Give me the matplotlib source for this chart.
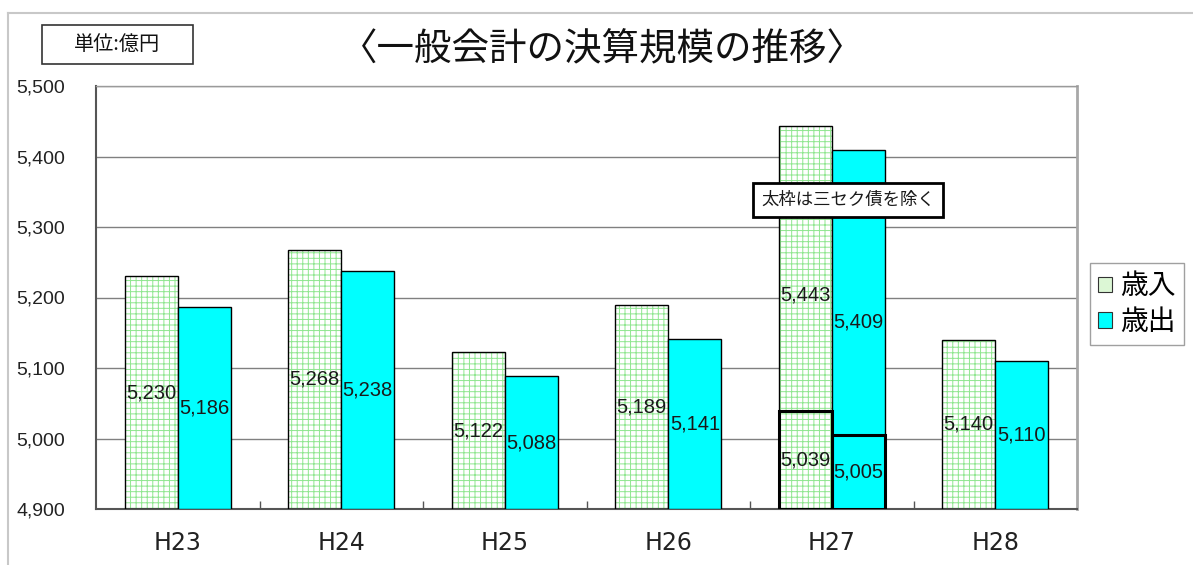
"""General account settlement scale trend chart (H23-H28)."""

import matplotlib
matplotlib.use('Agg')
import matplotlib.pyplot as plt
import numpy as np
from matplotlib.patches import Patch, Rectangle
from matplotlib.lines import Line2D

plt.rcParams['font.family'] = ['Liberation Sans', 'Noto Sans CJK JP', 'DejaVu Sans']
plt.rcParams['hatch.linewidth'] = 0.7

categories = ['H23', 'H24', 'H25', 'H26', 'H27', 'H28']
revenue = [5230, 5268, 5122, 5189, 5443, 5140]        # 歳入
expenditure = [5186, 5238, 5088, 5141, 5409, 5110]    # 歳出
# H27 excluding third-sector bonds (thick-frame bars)
h27_index = 4
h27_excl_revenue = 5039
h27_excl_expenditure = 5005

y_ticks = [4900, 5000, 5100, 5200, 5300, 5400, 5500]
base = 4900

GREEN_HATCH = '#8fe68f'
CYAN = '#00ffff'
TEXT = '#1a1a1a'
JP = ['Noto Sans CJK JP', 'DejaVu Sans']

fig = plt.figure(figsize=(11.93, 5.65), dpi=100)
ax = fig.add_axes([96 / 1193, 1 - 509 / 565, 981 / 1193, 423 / 565])

x = np.arange(len(categories))
w = 0.325
rev = np.array(revenue)
exp_ = np.array(expenditure)

# revenue: white with light green grid, black outline
ax.bar(x - w / 2, rev - base, bottom=base, width=w, facecolor='white',
       edgecolor=GREEN_HATCH, hatch='+++', linewidth=0, zorder=2)
ax.bar(x - w / 2, rev - base, bottom=base, width=w, facecolor='none',
       edgecolor='black', linewidth=1.0, zorder=3)
# expenditure: cyan
ax.bar(x + w / 2, exp_ - base, bottom=base, width=w, facecolor=CYAN,
       edgecolor='black', linewidth=1.0, zorder=3)

# thick frames for H27 excluding third-sector bonds
ax.bar(h27_index - w / 2, h27_excl_revenue - base, bottom=base, width=w,
       facecolor='none', edgecolor='black', linewidth=2.2, zorder=4)
ax.bar(h27_index + w / 2, h27_excl_expenditure - base, bottom=base, width=w,
       facecolor='none', edgecolor='black', linewidth=2.2, zorder=4)

# value labels at the middle of each bar
for i in range(len(categories)):
    if i == h27_index:
        ry = base + (rev[i] - base) * 0.56
        ey = base + (exp_[i] - base) * 0.52
    else:
        ry = (base + rev[i]) / 2
        ey = (base + exp_[i]) / 2
    ax.text(x[i] - w / 2, ry, f'{rev[i]:,}', ha='center', va='center',
            fontsize=14.5, color=TEXT, zorder=5)
    ax.text(x[i] + w / 2, ey, f'{exp_[i]:,}', ha='center', va='center',
            fontsize=14.5, color=TEXT, zorder=5)

ax.text(h27_index - w / 2, (base + h27_excl_revenue) / 2, f'{h27_excl_revenue:,}',
        ha='center', va='center', fontsize=14.5, color=TEXT, zorder=5)
ax.text(h27_index + w / 2, (base + h27_excl_expenditure) / 2, f'{h27_excl_expenditure:,}',
        ha='center', va='center', fontsize=14.5, color=TEXT, zorder=5)

ax.text(h27_index + 0.1, 5338, '太枠は三セク債を除く', ha='center', va='center',
        fontsize=12.5, color=TEXT, zorder=6, family=JP,
        bbox=dict(boxstyle='square,pad=0.45', facecolor='white',
                  edgecolor='black', linewidth=2))

ax.set_xlim(-0.5, len(categories) - 0.5)
ax.set_ylim(y_ticks[0], y_ticks[-1])
ax.set_yticks(y_ticks, [f'{v:,}' for v in y_ticks])
ax.set_xticks(x, categories)
ax.set_xticks(np.arange(0.5, len(categories) - 0.5), minor=True)
ax.tick_params(axis='y', length=0, pad=22, labelsize=14, labelcolor='#222222')
ax.tick_params(axis='x', which='major', length=0, pad=16, labelsize=17,
               labelcolor='#222222')
ax.tick_params(axis='x', which='minor', direction='in', length=6,
               color='#555555', width=1)
for lbl in ax.get_xticklabels():
    lbl.set_family('DejaVu Sans')

ax.grid(axis='y', color='#808080', linewidth=1.0, zorder=1)
ax.set_axisbelow(True)
for side in ['left', 'bottom']:
    ax.spines[side].set_color('#555555')
    ax.spines[side].set_linewidth(1.5)
ax.spines['top'].set_color('#9a9a9a')
ax.spines['top'].set_linewidth(1.0)
ax.spines['right'].set_color('#a8a8a8')
ax.spines['right'].set_linewidth(2.0)

# legend
handles = [Patch(facecolor='#dcf7d5', edgecolor='#333333', linewidth=0.8),
           Patch(facecolor=CYAN, edgecolor='#333333', linewidth=0.8)]
leg = fig.legend(handles, ['歳入', '歳出'], loc='upper left',
                 bbox_to_anchor=(1090 / 1193, 1 - 263 / 565),
                 prop={'family': JP, 'size': 20},
                 frameon=True, fancybox=False, handlelength=0.5,
                 handleheight=0.5, handletextpad=0.3, borderpad=0.3,
                 labelspacing=0.2, borderaxespad=0)
leg.get_frame().set_edgecolor('#888888')
leg.get_frame().set_linewidth(1.0)

# title and unit box
fig.text(602 / 1193, 1 - 50 / 565, '〈一般会計の決算規模の推移〉', ha='center',
         va='center', fontsize=27, color='#111111', family=JP)
fig.add_artist(Rectangle((42 / 1193, 1 - 64 / 565), 151 / 1193, 39 / 565,
                         transform=fig.transFigure, facecolor='white',
                         edgecolor='#333333', linewidth=1.2))
fig.text(117 / 1193, 1 - 44 / 565, '単位:億円', ha='center', va='center',
         fontsize=14.5, color='#111111', family=JP)

# outer page border
fig.add_artist(Line2D([8 / 1193, 1], [1 - 13 / 565, 1 - 13 / 565],
                      transform=fig.transFigure, color='#c8c8c8', linewidth=1.5))
fig.add_artist(Line2D([8 / 1193, 8 / 1193], [0, 1 - 13 / 565],
                      transform=fig.transFigure, color='#c8c8c8', linewidth=1.5))

fig.savefig('out.png', dpi=100, facecolor='white')
